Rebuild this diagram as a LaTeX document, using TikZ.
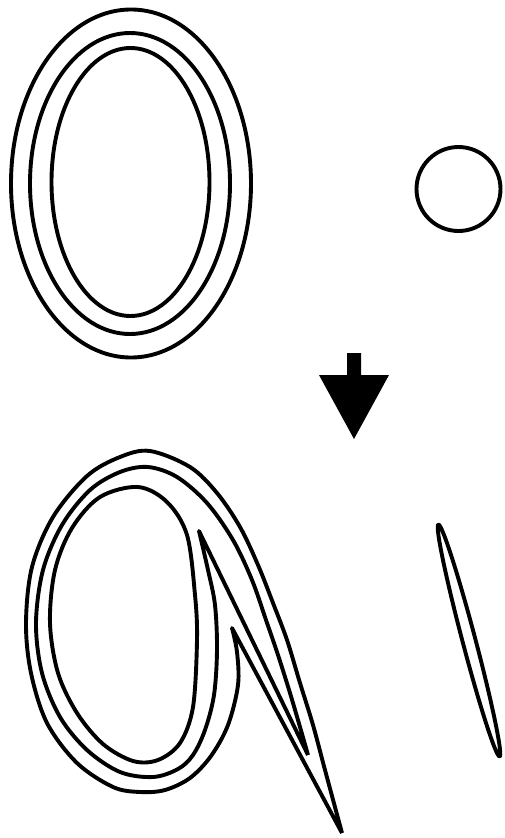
\documentclass[tikz,border=0pt]{standalone}
\begin{document}
\begin{tikzpicture}[x=1pt,y=-1pt,line width=3.9pt,
  curve/.style={draw=black,line join=round},
  loop/.style={smooth,tension=0.55}]
\useasboundingbox (0,0) rectangle (504,838);
% top nested ellipses
\draw[curve] (131,183.5) ellipse [x radius=120,y radius=174];
\draw[curve] (130,183.5) ellipse [x radius=100,y radius=150.5];
\draw[curve] (130.5,182) ellipse [x radius=79,y radius=134];
% small circle
\draw[curve] (458.5,189) circle [radius=42];
% arrow
\fill[black] (347,353) -- (361,353) -- (361,375) -- (389,375) -- (354,439) -- (319,375) -- (347,375) -- cycle;
% deformed inner loop
\draw[curve] plot[smooth cycle,tension=0.55] coordinates {
 (138,487) (167,502) (187,535) (195,595) (197,640) (193,707) (180,743)
 (158,760) (133,761) (103,744) (77,713) (58,673) (50,623) (55,570) (72,528) (100,497)};
% deformed middle curve
\draw[curve] (308,755) -- (199,531) -- plot[loop] coordinates {
 (199,531) (208,570) (215,605) (217,650) (214,695) (205,730) (193,755) (178,769) (153,777) (120,772)
 (87,750) (60,717) (42,673) (36,623) (43,570) (62,525) (90,490) (120,472) (148,467)
 (177,477) (207,503) (233,540) (252,580) (266,620) (278,655) (290,693) (300,727) (308,755)};
% deformed outer curve
\draw[curve] (342,833) -- (232,628) -- plot[loop] coordinates {
 (232,628) (237,652) (238,685) (228,725) (211,756) (190,778) (165,790) (140,792) (113,787) (77,763)
 (47,723) (31,673) (26,623) (32,567) (53,517) (87,476) (120,457) (150,451)
 (190,467) (217,493) (240,527) (258,565) (273,603) (287,640) (300,683) (313,725) (325,770) (342,833)};
% stretched circle
\draw[curve,rotate around={-75.2:(469,640.5)}] (469,640.5) ellipse [x radius=120,y radius=6.5];
\end{tikzpicture}
\end{document}
